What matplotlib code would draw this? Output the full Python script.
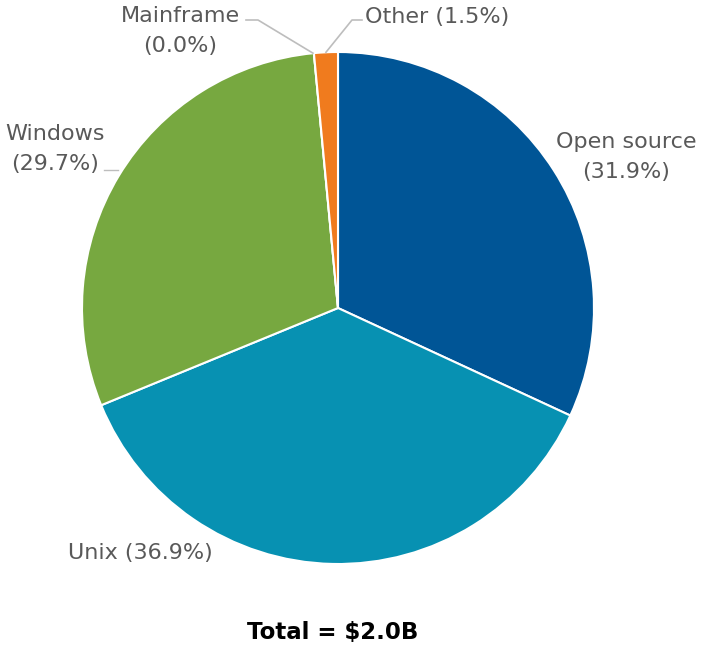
import numpy as np
import matplotlib
matplotlib.use("Agg")
import matplotlib.pyplot as plt

# data
categories = ["Open source", "Unix", "Windows", "Mainframe", "Other"]
shares = [31.9, 36.9, 29.7, 0.0, 1.5]
colors = ["#005596", "#0791B2", "#77A840", "#B0B0B0", "#F07B1E"]
total_label = "Total = $2.0B"

W, H = 701, 651
fig = plt.figure(figsize=(W / 100, H / 100), dpi=100)
ax = fig.add_axes([0, 0, 1, 1])

cx, cy, r = 338, 308, 256

# y axis runs downward, so startangle -90 is the top and ccw looks clockwise
wedges, _ = ax.pie(shares, colors=colors, startangle=-90, counterclock=True,
                   center=(cx, cy), radius=r, frame=True,
                   wedgeprops=dict(edgecolor="white", linewidth=1.5))
ax.set_xlim(0, W)
ax.set_ylim(H, 0)
ax.set_aspect("equal")
ax.axis("off")

txt = dict(fontsize=16, color="#595959", family="DejaVu Sans", linespacing=1.6)
lc = "#BDBDBD"


def edge_point(w):
    # midpoint angle of wedge on the rim
    a = np.deg2rad((w.theta1 + w.theta2) / 2)
    return cx + r * np.cos(a), cy + r * np.sin(a)


labels = ["%s\n(%.1f%%)" % (c, s) for c, s in zip(categories, shares)]

ax.text(626, 157, labels[0], ha="center", va="center", **txt)
ax.text(140, 553, "%s (%.1f%%)" % (categories[1], shares[1]), ha="center", va="center", **txt)
ax.text(55, 149, labels[2], ha="center", va="center", **txt)
ax.plot([104, 118], [170, 170], color=lc, lw=1)

# Mainframe with leader
ax.text(180, 31, labels[3], ha="center", va="center", **txt)
mx, my = edge_point(wedges[3])
ax.plot([246, 258, mx - 1], [20, 20, my], color=lc, lw=1.2)

# Other with leader
ox, oy = edge_point(wedges[4])
ax.text(365, 17, "%s (%.1f%%)" % (categories[4], shares[4]), ha="left", va="center", **txt)
ax.plot([362, 352, ox], [20, 20, oy], color=lc, lw=1.2)

ax.text(333, 633, total_label, ha="center", va="center", fontsize=16.5,
        fontweight="bold", color="black", family="DejaVu Sans")

fig.savefig("out.png", dpi=100)
